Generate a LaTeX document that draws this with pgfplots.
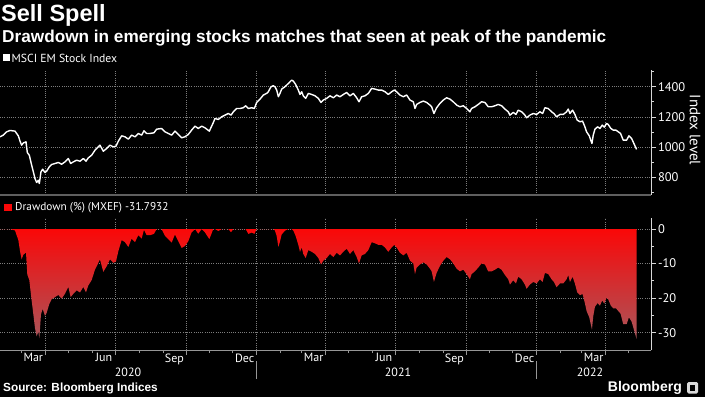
\documentclass[border=0pt]{standalone}
\usepackage{pgfplots}
\pgfplotsset{compat=1.18}
\usepackage{fontspec}
\setmainfont{PT Sans}
\newfontfamily\headfont{Liberation Sans}
\definecolor{ddtop}{RGB}{250,8,8}
\definecolor{ddbot}{RGB}{170,85,90}
\definecolor{gridc}{RGB}{125,125,125}
\definecolor{sepc}{RGB}{95,95,95}
\definecolor{axc}{RGB}{215,215,215}
\definecolor{axb}{RGB}{150,150,150}

\pgfplotstableread{
d v
31.6 1068.5
35.9 1079.6
40.3 1101.6
44.6 1110.5
51.2 1106
53.3 1090.6
55.5 1075
57.7 1039.8
59.8 1013
62.0 1028
65.5 1035
67.2 964.3
69.8 946.6
72.9 880
75.1 836
77.2 792
79.4 765.6
81.6 781
82.9 759
85.0 836
87.2 853.8
90.3 831.7
92.4 840.9
95.9 869.6
98.9 885
103.3 891.7
107.6 898.6
112.0 887
116.3 902.4
120.7 924.5
123.7 891.7
127.2 902.4
131.5 913.5
135.9 906.8
140.2 924.5
143.7 906.8
146.7 929
151.1 946.6
155.4 979.8
159.8 1002
161.9 1013
166.3 973.1
170.6 990.8
175.0 1013
179.3 1002
182.8 1006
185.9 1039.8
190.2 1075
194.5 1068.5
198.9 1053
203.2 1079.6
207.6 1068.5
211.9 1090.6
216.3 1079.6
219.3 1108.4
222.8 1090.6
227.1 1090.6
232.3 1095
235.8 1119
242.3 1123.6
246.7 1101.6
251.0 1090.6
255.4 1079.6
259.7 1106
264.1 1084
268.4 1062
272.7 1068.5
277.1 1084
281.4 1112.6
285.8 1139
290.1 1123.6
294.5 1139
298.8 1128
304.5 1106
309.7 1163
311.9 1190
316.2 1183.4
320.6 1201
324.9 1212
329.3 1223
332.8 1212
335.8 1234
340.1 1256
344.5 1256
348.8 1261
351.9 1274
355.4 1256
359.7 1261
363.2 1256
366.2 1296
370.6 1318
374.9 1345
379.2 1356
381.4 1367
384.9 1400
387.9 1406.6
390.1 1400
392.3 1378
394.5 1334
396.6 1356
398.8 1384.5
403.1 1400
407.5 1422
411.8 1444
414.0 1437.6
417.0 1415.5
420.5 1378
422.7 1349
424.9 1367
427.0 1340
430.1 1323
433.6 1356
437.9 1349
442.3 1340
446.6 1323
450.1 1296
453.1 1312
457.5 1323
461.8 1340
466.2 1327
470.5 1345
474.8 1334
479.2 1349
483.5 1362
487.9 1340
492.2 1356
496.6 1327
499.6 1300.5
503.1 1334
507.4 1340
511.8 1356
516.1 1389
520.5 1384.5
524.8 1378
529.2 1378
533.5 1367
537.8 1349
542.2 1367
545.7 1378
548.7 1367
553.0 1345
557.4 1334
561.7 1345
566.1 1312
570.4 1300.5
572.6 1256
574.8 1283
579.1 1296
583.5 1305
587.8 1296
592.1 1278.5
594.3 1267.4
597.3 1223
600.8 1260.8
605.1 1289.5
609.5 1311.6
613.8 1327
618.2 1318
622.5 1300.5
626.9 1278.5
631.2 1267.4
635.6 1274
639.9 1256
644.2 1234
646.4 1256
650.8 1267.4
655.1 1283
659.4 1300.5
663.8 1296
668.1 1267.4
672.5 1267.4
676.8 1274
681.2 1283
685.5 1274
689.9 1252
694.2 1234
696.4 1212
700.7 1230
704.2 1216.6
707.2 1245
711.6 1234
715.9 1212
718.1 1194.5
722.4 1212
726.8 1223
731.1 1216.6
735.5 1234
739.0 1223
742.0 1260.8
746.3 1256
750.7 1234
753.7 1223
757.2 1201
761.6 1216.6
765.9 1216.6
770.2 1234
772.4 1252
774.6 1223
778.1 1245
781.1 1216.6
784.1 1179
787.6 1168
791.1 1172.4
794.1 1134.8
796.3 1101.6
799.8 1075
803.3 1024
805.0 1079.6
807.2 1119
810.7 1134.8
813.7 1123.6
816.7 1145.8
819.3 1132.6
822.4 1157
824.5 1150.3
828.0 1123.6
831.1 1112.7
834.6 1112.7
837.6 1101.6
840.6 1090.6
844.1 1046.4
848.5 1046.4
851.5 1075
855.0 1057.4
858.0 1024
861.5 985
}\indextab

\pgfplotstableread{
d dd
31.6 0
35.9 0
40.3 0
44.6 0
51.2 -0.41
53.3 -1.79
55.5 -3.20
57.7 -6.37
59.8 -8.78
62.0 -7.43
65.5 -6.80
67.2 -13.17
69.8 -14.76
72.9 -20.76
75.1 -24.72
77.2 -28.68
79.4 -31.06
81.6 -29.67
82.9 -31.65
85.0 -24.72
87.2 -23.12
90.3 -25.11
92.4 -24.28
95.9 -21.69
98.9 -20.31
103.3 -19.70
107.6 -19.08
112.0 -20.13
116.3 -18.74
120.7 -16.75
123.7 -19.70
127.2 -18.74
131.5 -17.74
135.9 -18.34
140.2 -16.75
143.7 -18.34
146.7 -16.34
151.1 -14.76
155.4 -11.77
159.8 -9.77
161.9 -8.78
166.3 -12.37
170.6 -10.78
175.0 -8.78
179.3 -9.77
182.8 -9.41
185.9 -6.37
190.2 -3.20
194.5 -3.78
198.9 -5.18
203.2 -2.78
207.6 -3.78
211.9 -1.79
216.3 -2.78
219.3 -0.19
222.8 -1.79
227.1 -1.79
232.3 -1.40
235.8 0
242.3 0
246.7 -1.96
251.0 -2.94
255.4 -3.92
259.7 -1.57
264.1 -3.52
268.4 -5.48
272.7 -4.90
277.1 -3.52
281.4 -0.98
285.8 0
290.1 -1.35
294.5 0
298.8 -0.97
304.5 -2.90
309.7 0
311.9 0
316.2 -0.55
320.6 0
324.9 0
329.3 0
332.8 -0.90
335.8 0
340.1 0
344.5 0
348.8 0
351.9 0
355.4 -1.41
359.7 -1.02
363.2 -1.41
366.2 0
370.6 0
374.9 0
379.2 0
381.4 0
384.9 0
387.9 0
390.1 -0.47
392.3 -2.03
394.5 -5.16
396.6 -3.60
398.8 -1.57
403.1 -0.47
407.5 0
411.8 0
414.0 -0.44
417.0 -1.97
420.5 -4.57
422.7 -6.58
424.9 -5.33
427.0 -7.20
430.1 -8.38
433.6 -6.09
437.9 -6.58
442.3 -7.20
446.6 -8.38
450.1 -10.25
453.1 -9.14
457.5 -8.38
461.8 -7.20
466.2 -8.10
470.5 -6.86
474.8 -7.62
479.2 -6.58
483.5 -5.68
487.9 -7.20
492.2 -6.09
496.6 -8.10
499.6 -9.94
503.1 -7.62
507.4 -7.20
511.8 -6.09
516.1 -3.81
520.5 -4.12
524.8 -4.57
529.2 -4.57
533.5 -5.33
537.8 -6.58
542.2 -5.33
545.7 -4.57
548.7 -5.33
553.0 -6.86
557.4 -7.62
561.7 -6.86
566.1 -9.14
570.4 -9.94
572.6 -13.02
574.8 -11.15
579.1 -10.25
583.5 -9.63
587.8 -10.25
592.1 -11.46
594.3 -12.23
597.3 -15.30
600.8 -12.69
605.1 -10.70
609.5 -9.17
613.8 -8.10
618.2 -8.73
622.5 -9.94
626.9 -11.46
631.2 -12.23
635.6 -11.77
639.9 -13.02
644.2 -14.54
646.4 -13.02
650.8 -12.23
655.1 -11.15
659.4 -9.94
663.8 -10.25
668.1 -12.23
672.5 -12.23
676.8 -11.77
681.2 -11.15
685.5 -11.77
689.9 -13.30
694.2 -14.54
696.4 -16.07
700.7 -14.82
704.2 -15.75
707.2 -13.78
711.6 -14.54
715.9 -16.07
718.1 -17.28
722.4 -16.07
726.8 -15.30
731.1 -15.75
735.5 -14.54
739.0 -15.30
742.0 -12.69
746.3 -13.02
750.7 -14.54
753.7 -15.30
757.2 -16.83
761.6 -15.75
765.9 -15.75
770.2 -14.54
772.4 -13.30
774.6 -15.30
778.1 -13.78
781.1 -15.75
784.1 -18.35
787.6 -19.11
791.1 -18.81
794.1 -21.41
796.3 -23.71
799.8 -25.55
803.3 -29.09
805.0 -25.24
807.2 -22.51
810.7 -21.41
813.7 -22.19
816.7 -20.65
819.3 -21.57
822.4 -19.88
824.5 -20.34
828.0 -22.19
831.1 -22.94
834.6 -22.94
837.6 -23.71
840.6 -24.47
844.1 -27.53
848.5 -27.53
851.5 -25.55
855.0 -26.77
858.0 -29.09
861.5 -31.79
}\ddtab

\begin{document}
\begin{tikzpicture}[x=1pt,y=1pt]
\fill[black] (0pt,0pt) rectangle (705pt,397pt);
\path[use as bounding box] (0pt,0pt) rectangle (705pt,397pt);

\begin{axis}[
  at={(0pt,202pt)}, anchor=south west, scale only axis,
  width=651pt, height=125pt,
  xmin=31.6, xmax=880.3, ymin=683, ymax=1511,
  axis x line*=bottom, axis y line*=right,
  x axis line style={draw=none},
  xtick={91,182,274,366,456,547,639,731,821}, xticklabels={},
  x tick style={draw=none},
  ytick={800,1000,1200,1400}, yticklabels={800,1000,1200,1400},
  minor ytick={700,900,1100,1300,1500},
  y axis line style={draw=axc, line width=0.8pt},
  y tick style={draw=axc, line width=0.8pt},
  major tick length=5pt, minor tick length=3pt,
  tick align=outside,
  xmajorgrids, ymajorgrids,
  grid style={draw=gridc, dash pattern=on 0.8pt off 1.4pt, line width=0.6pt},
  yticklabel style={text=white, font=\fontsize{12.5}{14}\selectfont, xshift=-1.5pt},
]
\addplot[white, line width=1.4pt, line join=round] table[x=d, y=v] {\indextab};
\end{axis}

\begin{axis}[
  at={(0pt,47pt)}, anchor=south west, scale only axis,
  width=651pt, height=132pt,
  xmin=31.6, xmax=880.3, ymin=-35, ymax=3.2,
  axis x line*=bottom, axis y line*=right,
  x axis line style={draw=axb, line width=0.8pt},
  xtick={91,182,274,366,456,547,639,731,821}, xticklabels={},
  minor xtick={60,121,152,213,244,305,335,397,425,486,517,578,609,670,700,762,790,851},
  x tick style={draw=axb, line width=0.7pt},
  extra x ticks={75,167,259,350.5,440.5,532,624,715.5,805.5},
  extra x tick labels={Mar,Jun,Sep,Dec,Mar,Jun,Sep,Dec,Mar},
  extra x tick style={grid=none, major tick length=0pt, tick style={draw=none}},
  xticklabel style={text=white, font=\fontsize{12}{14}\selectfont},
  ytick={-30,-20,-10,0}, yticklabels={-30,-20,-10,0},
  minor ytick={-25,-15,-5},
  y axis line style={draw=axc, line width=0.8pt},
  y tick style={draw=axc, line width=0.8pt},
  major tick length=5pt, minor tick length=3pt,
  tick align=outside,
  xmajorgrids, ymajorgrids,
  grid style={draw=gridc, dash pattern=on 0.8pt off 1.4pt, line width=0.6pt},
  yticklabel style={text=white, font=\fontsize{12.5}{14}\selectfont, xshift=-1.5pt},
]
\addplot[draw=none, top color=ddtop, bottom color=ddbot] table[x=d, y=dd] {\ddtab} \closedcycle;
\end{axis}

% separator between panels
\draw[sepc, line width=2.5pt] (0pt,202pt) -- (651pt,202pt);

% titles
\node[anchor=north west, inner sep=0pt, text=white, font=\headfont\bfseries\fontsize{23.5}{25}\selectfont] at (1pt,393pt) {Sell Spell};
\node[anchor=north west, inner sep=0pt, text=white, font=\headfont\bfseries\fontsize{17.2}{19}\selectfont] at (2pt,367.5pt) {Drawdown in emerging stocks matches that seen at peak of the pandemic};

% legends
\fill[white] (3pt,335.5pt) rectangle (10pt,342.5pt);
\node[anchor=west, inner sep=0pt, text=white, font=\fontsize{11.7}{12}\selectfont] at (11.5pt,339pt) {MSCI EM Stock Index};
\fill[ddtop] (4pt,186pt) rectangle (12pt,193pt);
\node[anchor=west, inner sep=0pt, text=white, font=\fontsize{11.3}{13}\selectfont] at (15pt,189.5pt) {Drawdown (\%) (MXEF) -31.7932};

% right axis label
\node[rotate=-90, text=white, font=\fontsize{15}{16}\selectfont] at (695pt,267pt) {Index level};

% year labels and separators
\node[text=white, font=\fontsize{12}{14}\selectfont] at (128pt,25pt) {2020};
\node[text=white, font=\fontsize{12}{14}\selectfont] at (398pt,25pt) {2021};
\node[text=white, font=\fontsize{12}{14}\selectfont] at (590pt,25pt) {2022};
\draw[axb, line width=0.7pt] (256.5pt,18pt) -- (256.5pt,36pt);
\draw[axb, line width=0.7pt] (536.5pt,18pt) -- (536.5pt,36pt);

% footer
\node[anchor=west, inner sep=0pt, text=white, font=\headfont\bfseries\fontsize{11.8}{13}\selectfont] at (3pt,9pt) {Source: Bloomberg Indices};
\node[anchor=east, inner sep=0pt, text=white, font=\headfont\bfseries\fontsize{14}{15}\selectfont] at (682pt,9.5pt) {Bloomberg};
\fill[rounded corners=1.5pt, white!85!black] (687pt,3.5pt) rectangle (698pt,15pt);
\fill[black] (690pt,6pt) rectangle (695pt,12pt);
\end{tikzpicture}
\end{document}
